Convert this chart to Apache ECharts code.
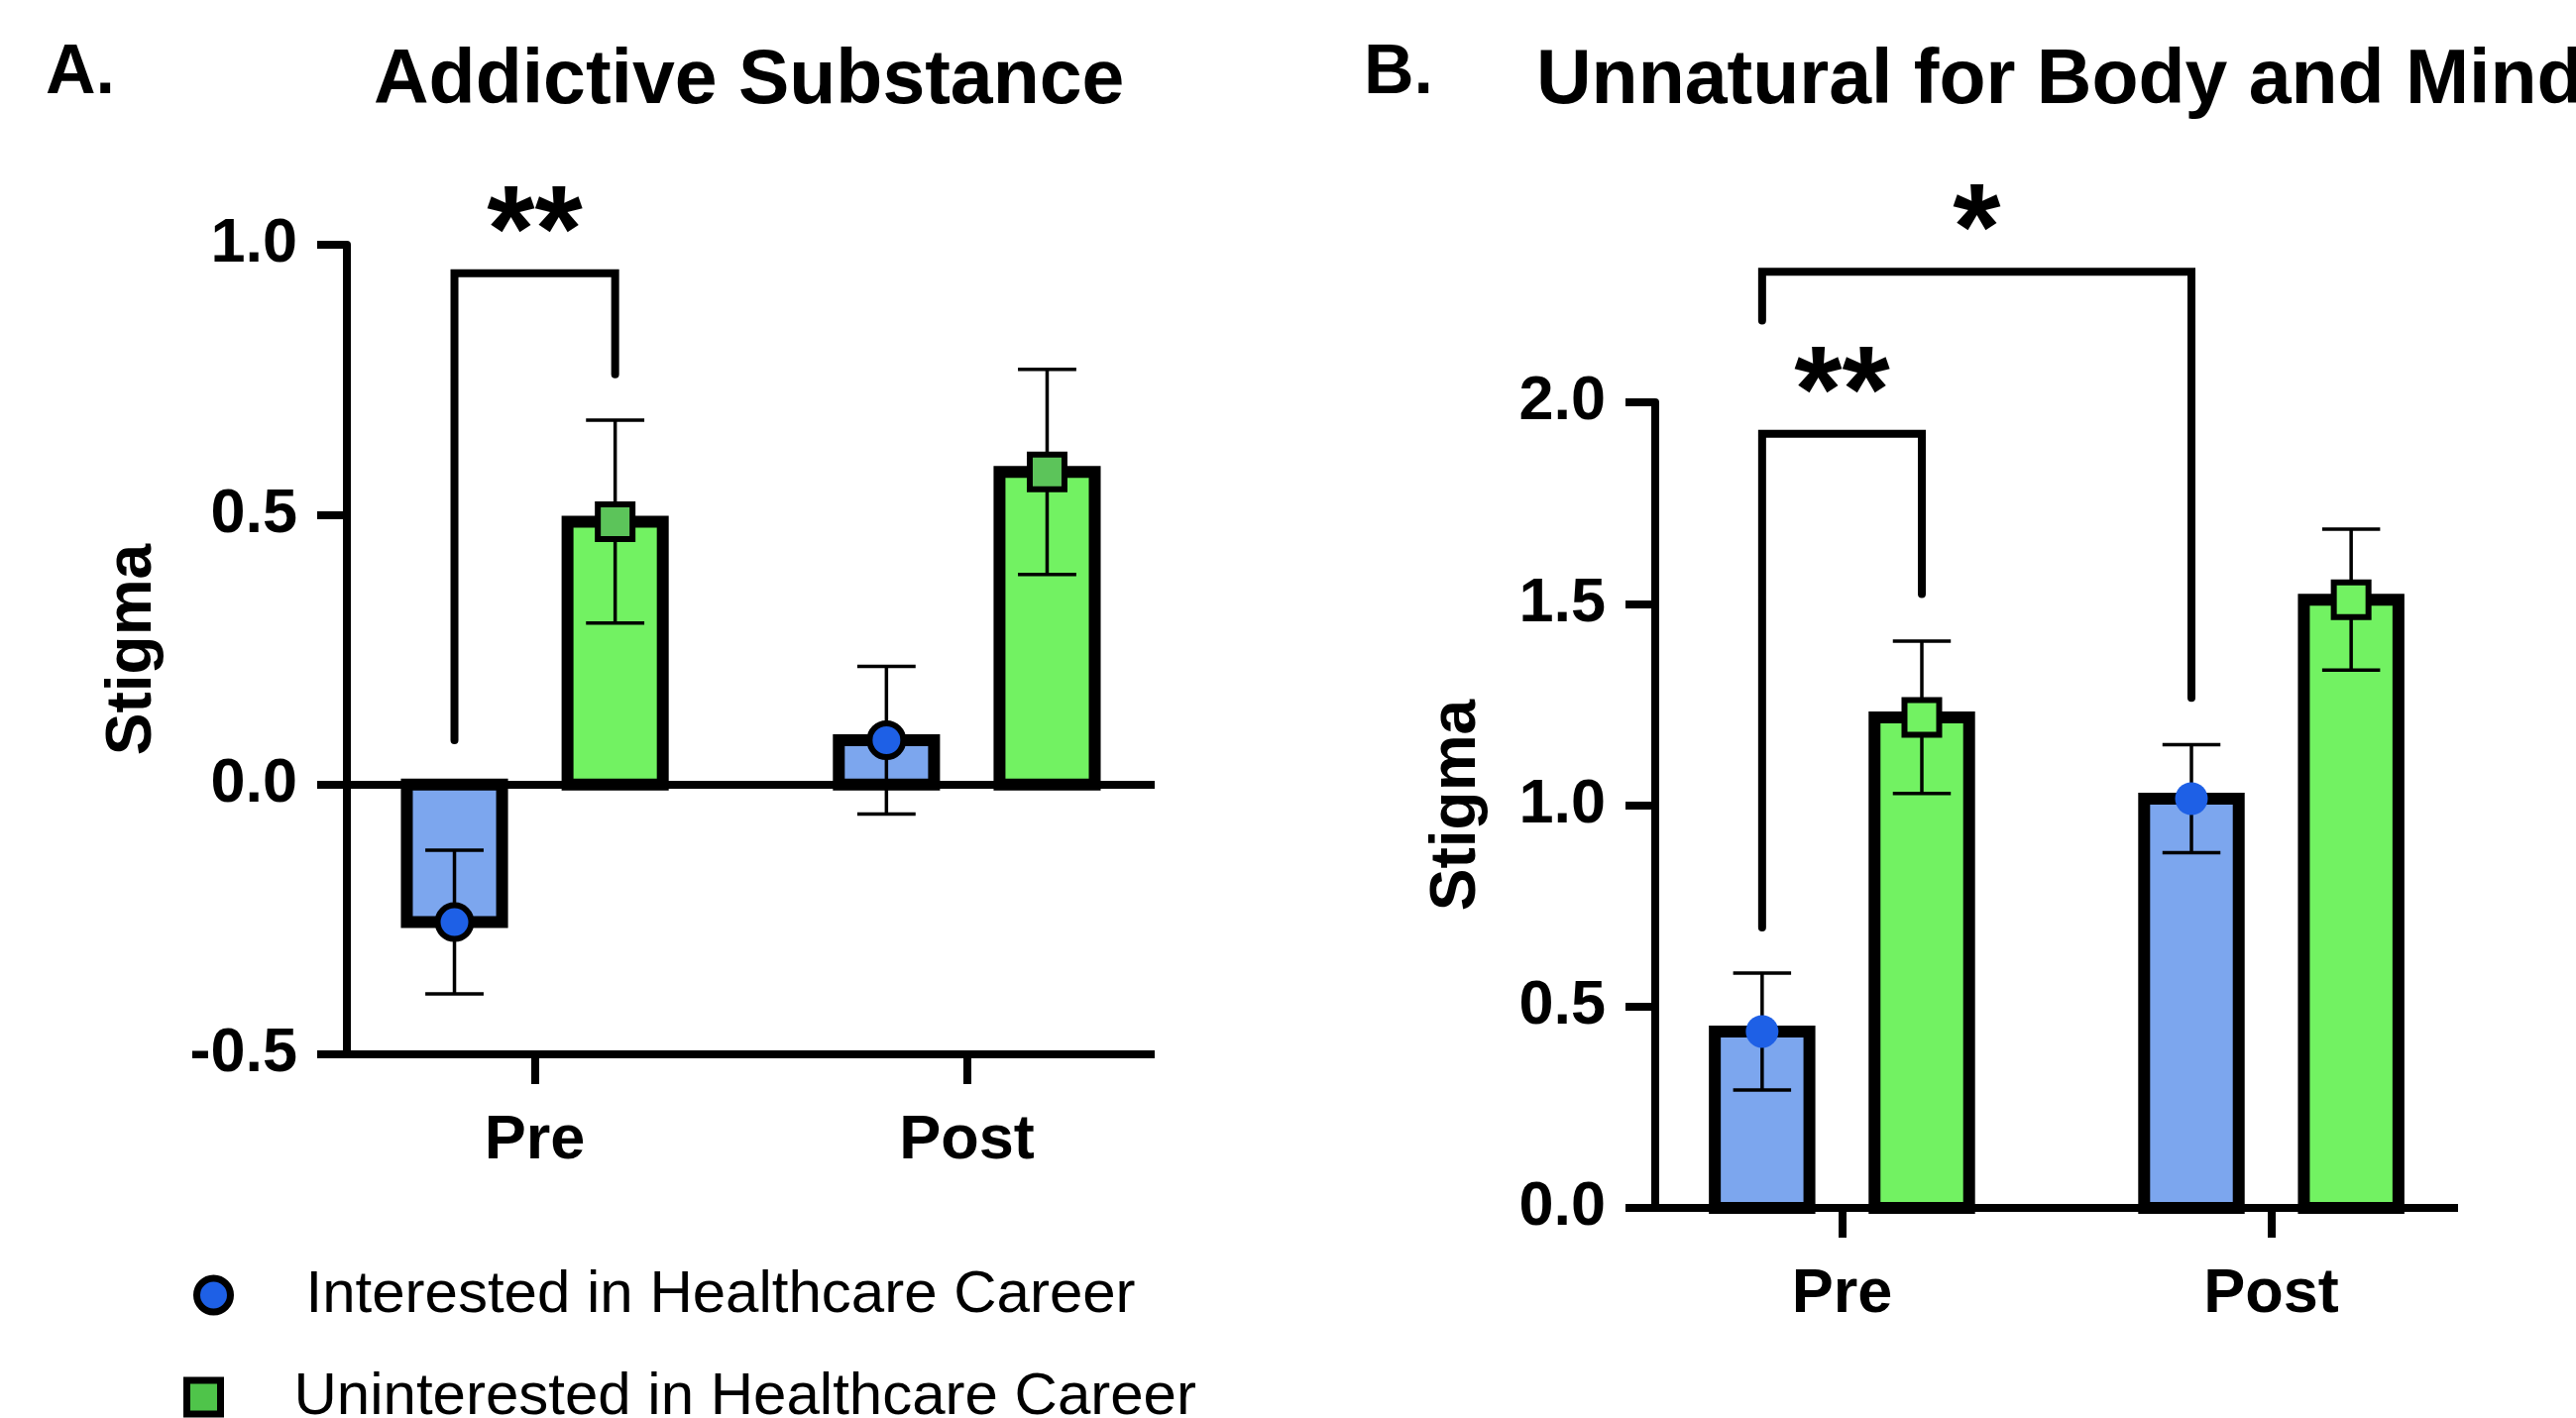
<!DOCTYPE html>
<html><head><meta charset="utf-8">
<script src="https://cdn.jsdelivr.net/npm/echarts@6/dist/echarts.min.js"></script>
<style>html,body{margin:0;padding:0;background:#fff}#c{width:2599px;height:1431px}</style>
</head><body><div id="c"></div>
<script>
// ---------------- data ----------------
const categories = ['Pre', 'Post'];
const groupNames = ['Interested in Healthcare Career', 'Uninterested in Healthcare Career'];
const panelTitles = ['Addictive Substance', 'Unnatural for Body and Mind'];
const panelLetters = ['A.', 'B.'];
const yAxisName = 'Stigma';

const aInterestedMean = [-0.255, 0.082];
const aInterestedSem = [0.133, 0.137];
const aUninterestedMean = [0.487, 0.579];
const aUninterestedSem = [0.188, 0.190];

const bInterestedMean = [0.438, 1.016];
const bInterestedSem = [0.145, 0.134];
const bUninterestedMean = [1.218, 1.510];
const bUninterestedSem = [0.189, 0.175];

const aYTicks = [-0.5, 0.0, 0.5, 1.0];
const bYTicks = [0.0, 0.5, 1.0, 1.5, 2.0];

// significance brackets: [fromCategory, fromGroup, toCategory, toGroup, leftLegEnd, top, rightLegEnd]
const aBracketLegs = [[0, 0, 0, 1, 0.082, 0.947, 0.760]];
const aBracketLabels = ['**'];
const bBracketLegs = [[0, 0, 0, 1, 0.696, 1.922, 1.524], [0, 0, 1, 0, 2.203, 2.324, 1.266]];
const bBracketLabels = ['**', '*'];

// ---------------- style ----------------
const FONT = '"Liberation Sans", Arial, Helvetica, sans-serif';
const GROUP_OFFSET = [-0.186, 0.186];
const BAR_FRAC = 0.248;
const BAR_BORDER = 12;
const CAP_FRAC = 0.135;
const BAR_FILL = ['#7ca6ee', '#72f262'];
const MARKER_BLUE = '#1e60e6';

function toRows(mean, sem) { return categories.map((c, i) => [i, mean[i], sem[i]]); }

function barRenderer(groupIdx, markerStyle) {
  return function (params, api) {
    const cat = api.value(0), mean = api.value(1), sem = api.value(2);
    const band = api.size([1, 0])[0];
    const xc = api.coord([cat + 1, 0])[0] + GROUP_OFFSET[groupIdx] * band;
    const y0 = api.coord([cat + 1, 0])[1];
    const ym = api.coord([cat + 1, mean])[1];
    const yHi = api.coord([cat + 1, mean + sem])[1];
    const yLo = api.coord([cat + 1, mean - sem])[1];
    const bw = BAR_FRAC * band - BAR_BORDER;
    const cw = CAP_FRAC * band / 2;
    const children = [
      { type: 'rect', shape: { x: xc - bw / 2, y: Math.min(y0, ym), width: bw, height: Math.abs(ym - y0) },
        style: { fill: BAR_FILL[groupIdx], stroke: '#000', lineWidth: BAR_BORDER, lineJoin: 'miter' } },
      { type: 'line', shape: { x1: xc, y1: yHi, x2: xc, y2: yLo }, style: { stroke: '#000', lineWidth: 3.5 } },
      { type: 'line', shape: { x1: xc - cw, y1: yHi, x2: xc + cw, y2: yHi }, style: { stroke: '#000', lineWidth: 3.5 } },
      { type: 'line', shape: { x1: xc - cw, y1: yLo, x2: xc + cw, y2: yLo }, style: { stroke: '#000', lineWidth: 3.5 } }
    ];
    if (markerStyle.shape === 'circle') {
      children.push({ type: 'circle', shape: { cx: xc, cy: ym, r: markerStyle.r },
        style: { fill: markerStyle.fill, stroke: markerStyle.stroke, lineWidth: markerStyle.lw } });
    } else {
      const s = markerStyle.r * 2;
      children.push({ type: 'rect', shape: { x: xc - s / 2, y: ym - s / 2, width: s, height: s },
        style: { fill: markerStyle.fill, stroke: markerStyle.stroke, lineWidth: markerStyle.lw } });
    }
    return { type: 'group', children };
  };
}

function bracketRenderer(labels) {
  return function (params, api) {
    const band = api.size([1, 0])[0];
    const x1 = api.coord([api.value(0) + 1, 0])[0] + GROUP_OFFSET[api.value(1)] * band;
    const x2 = api.coord([api.value(2) + 1, 0])[0] + GROUP_OFFSET[api.value(3)] * band;
    const yl = api.coord([1, api.value(4)])[1];
    const yt = api.coord([1, api.value(5)])[1];
    const yr = api.coord([1, api.value(6)])[1];
    return { type: 'group', children: [
      { type: 'polyline', shape: { points: [[x1, yl], [x1, yt], [x2, yt], [x2, yr]] },
        style: { stroke: '#000', fill: null, lineWidth: 8, lineCap: 'round', lineJoin: 'miter' } },
      { type: 'text', style: { text: labels[params.dataIndex], x: (x1 + x2) / 2, y: yt - 36,
        align: 'center', verticalAlign: 'middle', font: 'bold 124px ' + FONT, fill: '#000' } }
    ] };
  };
}

const grids = [
  { left: 350, top: 247, width: 815, height: 817 },
  { left: 1670, top: 406, width: 810, height: 813 }
];

function xAxisFor(gi) {
  return {
    type: 'value', gridIndex: gi, min: 0.565, max: 2.435,
    splitLine: { show: false },
    axisLine: { show: true, onZero: false, lineStyle: { color: '#000', width: 8, cap: 'butt' } },
    axisTick: { show: true, customValues: [1, 2], length: 30, lineStyle: { color: '#000', width: 8 } },
    axisLabel: { show: true, customValues: [1, 2], formatter: v => categories[Math.round(v) - 1],
      margin: 56, color: '#000', fontFamily: FONT, fontWeight: 'bold', fontSize: 63 }
  };
}
function yAxisFor(gi, ticks, nameGap) {
  return {
    type: 'value', gridIndex: gi, min: ticks[0], max: ticks[ticks.length - 1], interval: 0.5,
    name: yAxisName, nameLocation: 'middle', nameGap: nameGap,
    nameTextStyle: { color: '#000', fontFamily: FONT, fontWeight: 'bold', fontSize: 64 },
    splitLine: { show: false },
    axisLine: { show: true, lineStyle: { color: '#000', width: 8 } },
    axisTick: { show: true, customValues: ticks, length: 30, lineStyle: { color: '#000', width: 8 } },
    axisLabel: { customValues: ticks, formatter: v => v.toFixed(1), margin: 50, color: '#000',
      fontFamily: FONT, fontWeight: 'bold', fontSize: 63 }
  };
}

const markerA = [
  { shape: 'circle', r: 17, fill: MARKER_BLUE, stroke: '#000', lw: 6 },
  { shape: 'rect', r: 17.5, fill: '#5cc45a', stroke: '#000', lw: 6 }
];
const markerB = [
  { shape: 'circle', r: 16.5, fill: MARKER_BLUE, stroke: null, lw: 0 },
  { shape: 'rect', r: 17.5, fill: '#72f262', stroke: '#000', lw: 6 }
];

const titleStyle = { color: '#000', fontFamily: FONT, fontWeight: 'bold', fontSize: 77 };
const letterStyle = { color: '#000', fontFamily: FONT, fontWeight: 'bold', fontSize: 70 };

const option = {
  backgroundColor: '#fff',
  animation: false,
  title: [
    { text: panelLetters[0], left: 46, top: 40, padding: 0, textStyle: letterStyle },
    { text: panelTitles[0], left: 377, top: 44, padding: 0, textStyle: titleStyle },
    { text: panelLetters[1], left: 1376, top: 40, padding: 0, textStyle: letterStyle },
    { text: panelTitles[1], left: 1550, top: 44, padding: 0, textStyle: titleStyle }
  ],
  legend: [
    { data: [{ name: groupNames[0], icon: 'circle', itemStyle: { color: MARKER_BLUE, borderColor: '#000', borderWidth: 7 } }],
      left: 195, top: 1277, padding: 0, itemWidth: 34, itemHeight: 34, selectedMode: false,
      textStyle: { fontFamily: FONT, fontSize: 60, color: '#000', lineHeight: 60, padding: [0, 0, 0, 71] } },
    { data: [{ name: groupNames[1], icon: 'rect', itemStyle: { color: '#4fc44a', borderColor: '#000', borderWidth: 7 } }],
      left: 185, top: 1380, padding: 0, itemWidth: 34, itemHeight: 34, selectedMode: false,
      textStyle: { fontFamily: FONT, fontSize: 60, color: '#000', lineHeight: 60, padding: [0, 0, 0, 69] } }
  ],
  grid: grids,
  xAxis: [xAxisFor(0), xAxisFor(1)],
  yAxis: [yAxisFor(0, aYTicks, 184), yAxisFor(1, bYTicks, 168)],
  series: [
    { type: 'custom', name: groupNames[0], xAxisIndex: 0, yAxisIndex: 0, clip: false,
      itemStyle: { color: MARKER_BLUE },
      renderItem: barRenderer(0, markerA[0]), data: toRows(aInterestedMean, aInterestedSem),
      markLine: { silent: true, symbol: ['none', 'none'], label: { show: false },
        lineStyle: { color: '#000', width: 8, type: 'solid' }, data: [{ yAxis: 0 }] } },
    { type: 'custom', name: groupNames[1], xAxisIndex: 0, yAxisIndex: 0, clip: false,
      itemStyle: { color: '#4fc44a' },
      renderItem: barRenderer(1, markerA[1]), data: toRows(aUninterestedMean, aUninterestedSem) },
    { type: 'custom', name: groupNames[0], xAxisIndex: 1, yAxisIndex: 1, clip: false,
      itemStyle: { color: MARKER_BLUE },
      renderItem: barRenderer(0, markerB[0]), data: toRows(bInterestedMean, bInterestedSem) },
    { type: 'custom', name: groupNames[1], xAxisIndex: 1, yAxisIndex: 1, clip: false,
      itemStyle: { color: '#4fc44a' },
      renderItem: barRenderer(1, markerB[1]), data: toRows(bUninterestedMean, bUninterestedSem) },
    { type: 'custom', name: 'bracketsA', xAxisIndex: 0, yAxisIndex: 0, clip: false, z: 5,
      renderItem: bracketRenderer(aBracketLabels), data: aBracketLegs },
    { type: 'custom', name: 'bracketsB', xAxisIndex: 1, yAxisIndex: 1, clip: false, z: 5,
      renderItem: bracketRenderer(bBracketLabels), data: bBracketLegs }
  ]
};

const chart = echarts.init(document.getElementById('c'), null, { renderer: 'canvas' });
chart.setOption(option);
</script>
</body></html>
